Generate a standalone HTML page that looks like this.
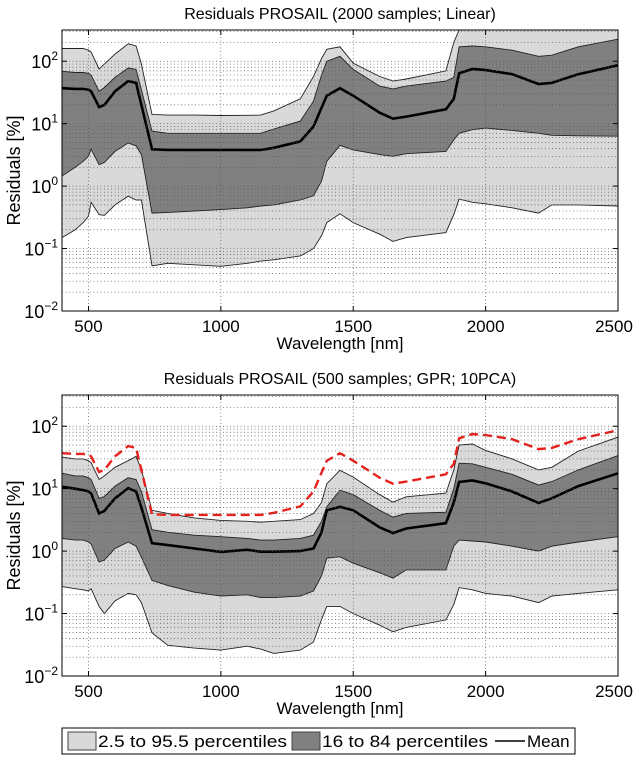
<!DOCTYPE html>
<html><head><meta charset="utf-8">
<style>
body{margin:0;background:#fff;width:640px;height:755px;overflow:hidden;font-family:"Liberation Sans",sans-serif}
svg text{font-family:"Liberation Sans",sans-serif;fill:#000}
</style></head>
<body>
<svg id="fig" width="640" height="755" viewBox="0 0 640 755" xmlns="http://www.w3.org/2000/svg"></svg>
<script>
// ---- data (wavelength nm / residual %) ----
const waveA = [400,450,480,500,510,540,560,600,650,680,700,740,800,900,1000,1100,1150,1200,1300,1350,1380,1400,1450,1500,1600,1650,1700,1850,1880,1900,1950,2000,2100,2200,2250,2350,2500];
// top plot: Linear, 2000 samples
const topP975 = [160,160,160,150,140,75,90,130,190,175,90,14,13.7,13.7,13.5,13.6,13.7,16,25,57,110,155,170,93,57,48,52,70,200,400,400,400,400,400,400,400,400];
const topP84  = [69,66,66,64,60,33,38,55,78,74,35,7.6,7,7,7,7,7,8.2,11,23,60,100,120,74,40,36,40,48,55,170,175,170,150,120,125,170,225];
const topMean = [37,36,36,35,33,18.4,20,33,48,45,20,3.9,3.8,3.8,3.8,3.8,3.8,4.1,5.2,9,18,28,37,28,15,12,13,17,25,64,75,72,62,43,45,62,86];
const topP16  = [1.45,2,2.5,3,3.9,2.2,2.4,3.6,4.9,4.4,3.2,0.37,0.38,0.4,0.42,0.45,0.48,0.5,0.6,0.7,1.2,2.5,4.5,3.8,3.2,3,3.3,3.6,5.5,7,8,8.5,7.8,7,6.5,6.4,6.3];
const topP025 = [0.15,0.2,0.26,0.33,0.55,0.35,0.34,0.5,0.69,0.6,0.6,0.053,0.058,0.055,0.052,0.058,0.063,0.066,0.076,0.1,0.16,0.26,0.36,0.26,0.17,0.13,0.15,0.18,0.35,0.62,0.55,0.52,0.45,0.37,0.5,0.5,0.48];
// bottom plot: GPR, 500 samples, 10PCA
const botP975 = [32,30,30,28,26,14,16,22,28,33,20,4.5,4.0,3.4,3.1,3.0,2.9,3.0,3.2,4.0,6,12,19.7,15.3,8,6.1,7.4,8.5,20,50,52,41,30,20,22,40,67];
const botP84  = [17.7,16,16,15,14,7,7.5,11,15,14,9,2.2,2.0,1.8,1.7,1.6,1.5,1.5,1.6,1.8,3,5.1,9.5,8,4.5,3.5,4,4.2,10,25.6,25,22,17,11.4,13,20,34];
const botMean = [10.7,10,9.5,9,8.4,4.0,4.4,7,10.2,9,5,1.34,1.25,1.1,0.97,1.05,0.98,0.98,1.0,1.1,2,4.5,5.1,4.5,2.4,1.94,2.3,2.8,6,12.8,13.5,12.2,9,5.9,7,11,17.6];
const botP16  = [1.6,1.5,1.5,1.4,1.3,0.67,0.72,1.1,1.4,1.2,0.8,0.34,0.28,0.22,0.19,0.2,0.18,0.18,0.19,0.23,0.4,0.77,0.81,0.64,0.45,0.37,0.5,0.5,1.2,1.5,1.45,1.4,1.2,1.0,1.2,1.4,1.7];
const botP025 = [0.27,0.25,0.24,0.23,0.25,0.13,0.1,0.16,0.21,0.2,0.15,0.049,0.031,0.028,0.026,0.03,0.027,0.023,0.026,0.035,0.08,0.13,0.13,0.1,0.065,0.051,0.06,0.079,0.14,0.26,0.24,0.21,0.19,0.15,0.19,0.21,0.24];
const xTicks = [500,1000,1500,2000,2500];
const yDecades = [-2,-1,0,1,2];

const NS="http://www.w3.org/2000/svg";
const svg=document.getElementById('fig');
function mk(tag,attrs,parent){const e=document.createElementNS(NS,tag);for(const k in attrs)e.setAttribute(k,attrs[k]);(parent||svg).appendChild(e);return e;}

function drawPlot(idx,top,title,series,red){
  const L=62,R=618,B=top+281,H=281;
  const xS=w=>L+(w-400)/2100*(R-L);
  const yS=v=>{const lv=Math.log10(Math.min(Math.max(v,0.01),316.2));return B-(lv+2)/4.5*H;};
  const g=mk('g',{});
  
  
  const cid='clip'+idx;
  const cp=mk('clipPath',{id:cid},g);mk('rect',{x:L,y:top,width:R-L,height:H},cp);
  const area=mk('g',{'clip-path':'url(#'+cid+')'},g);
  const pts=(arr)=>waveA.map((w,i)=>xS(w).toFixed(1)+','+yS(arr[i]).toFixed(1));
  function band(lo,hi,fill,name){
    const p=pts(hi).concat(pts(lo).reverse());
    const e=mk('polygon',{points:p.join(' '),fill:fill,stroke:'none'},area);
    
    
  }
  band(series.p025,series.p975,'#d9d9d9','band-2p5-97p5');
  band(series.p16,series.p84,'#808080','band-16-84');
  const gg=mk('g',{stroke:'#555','stroke-width':0.7,'stroke-dasharray':'1,2.5'},g);
  
  
  xTicks.forEach(t=>mk('line',{x1:xS(t),x2:xS(t),y1:top,y2:B},gg));
  for(let d=-2;d<=2;d++){for(let m=1;m<=9;m++){const v=m*Math.pow(10,d);if(v>316)continue;const y=yS(v);mk('line',{x1:L,x2:R,y1:y,y2:y},gg);}}
  ['p975','p84','p16','p025'].forEach(k=>{
    const e=mk('polyline',{points:pts(series[k]).join(' '),fill:'none',stroke:'#222','stroke-width':0.9},area);
    
    
  });
  const m=mk('polyline',{points:pts(series.mean).join(' '),fill:'none',stroke:'#000','stroke-width':2.6},area);
  
  
  if(red){
    const r=mk('polyline',{points:pts(red).join(' '),fill:'none',stroke:'#e8201c','stroke-width':2.4,'stroke-dasharray':'9,5'},area);
    
    
  }
  const fr=mk('rect',{x:L,y:top,width:R-L,height:H,fill:'none',stroke:'#000','stroke-width':1},g);
  
  
  xTicks.forEach(t=>{mk('line',{x1:xS(t),x2:xS(t),y1:B,y2:B-5,stroke:'#000'},g);mk('line',{x1:xS(t),x2:xS(t),y1:top,y2:top+5,stroke:'#000'},g);
    const tx=mk('text',{x:xS(t)+(t==2500?-4:0),y:B+21,'font-size':17,'text-anchor':'middle'},g);tx.textContent=t;
    
    });
  yDecades.forEach(d=>{const y=yS(Math.pow(10,d));mk('line',{x1:L,x2:L+5,y1:y,y2:y,stroke:'#000'},g);mk('line',{x1:R,x2:R-5,y1:y,y2:y,stroke:'#000'},g);
    const tx=mk('text',{x:L-4,y:y+7,'font-size':18,'text-anchor':'end'},g);
    
    
    const a=mk('tspan',{},tx);a.textContent='10';const b=mk('tspan',{dy:-8,'font-size':12},tx);b.textContent=String(d).replace('-','\u2212');});
  const ti=mk('text',{x:(L+R)/2,y:top-11,'font-size':16,'text-anchor':'middle'},g);ti.textContent=title;
  
  
  const xl=mk('text',{x:(L+R)/2,y:B+38,'font-size':17,'text-anchor':'middle'},g);xl.textContent='Wavelength [nm]';
  
  
  const yl=mk('text',{x:0,y:0,'font-size':18,'text-anchor':'middle',transform:'translate(20,'+(top+H/2)+') rotate(-90)'},g);yl.textContent='Residuals [%]';
  
  
}
drawPlot(1,30,'Residuals PROSAIL (2000 samples; Linear)',{p975:topP975,p84:topP84,mean:topMean,p16:topP16,p025:topP025},null);
drawPlot(2,395,'Residuals PROSAIL (500 samples; GPR; 10PCA)',{p975:botP975,p84:botP84,mean:botMean,p16:botP16,p025:botP025},topMean);

// legend
const lg=mk('g',{});


mk('rect',{x:62,y:728,width:513,height:26,fill:'#fff',stroke:'#000'},lg);
mk('rect',{x:68,y:732,width:28,height:18,fill:'#d9d9d9',stroke:'#444'},lg);
let t1=mk('text',{x:98,y:747,'font-size':17,textLength:189,lengthAdjust:'spacingAndGlyphs'},lg);t1.textContent='2.5 to 95.5 percentiles';


mk('rect',{x:292,y:732,width:28,height:18,fill:'#808080',stroke:'#444'},lg);
let t2=mk('text',{x:322,y:747,'font-size':17,textLength:166,lengthAdjust:'spacingAndGlyphs'},lg);t2.textContent='16 to 84 percentiles';


mk('line',{x1:495,x2:525,y1:741,y2:741,stroke:'#000','stroke-width':1.5},lg);
let t3=mk('text',{x:527,y:747,'font-size':17},lg);t3.textContent='Mean';


</script>
</body></html>
